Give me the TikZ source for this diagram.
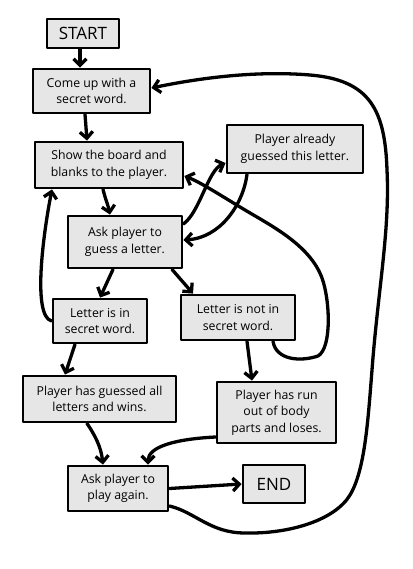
\documentclass[tikz,border=0pt]{standalone}
\usepackage{fontspec}
\setmainfont{Open Sans}
\usetikzlibrary{arrows.meta}
\definecolor{boxfill}{HTML}{E6E6E6}
\begin{document}
\begin{tikzpicture}[x=1pt,y=-1pt,
  box/.style={draw=black, line width=2.8pt, fill=boxfill, align=center, inner sep=0pt,
    font=\fontsize{12.3}{16.5}\selectfont, line join=round},
  arr/.style={-{Straight Barb[length=6.5pt,width=13pt]}, line width=3.3pt, line cap=round, line join=round}]
\useasboundingbox (0,0) rectangle (412,569);
\node[box, minimum width=72pt, minimum height=29pt, font=\fontsize{17}{19}\selectfont] (start) at (83,33.5) {START};
\node[box, minimum width=117pt, minimum height=44pt] (come) at (91.5,91) {Come up with a\\secret word.};
\node[box, minimum width=148pt, minimum height=46pt] (show) at (109,165) {Show the board and\\blanks to the player.};
\node[box, minimum width=136pt, minimum height=48pt] (already) at (295,149) {Player already\\guessed this letter.};
\node[box, minimum width=114pt, minimum height=52pt] (ask) at (125,242) {Ask player to\\guess a letter.};
\node[box, minimum width=94pt, minimum height=44pt] (in) at (100,321) {Letter is in\\secret word.};
\node[box, minimum width=114pt, minimum height=45pt] (notin) at (238,317.5) {Letter is not in\\secret word.};
\node[box, minimum width=153pt, minimum height=46pt] (won) at (99.5,399) {Player has guessed all\\letters and wins.};
\node[box, minimum width=119pt, minimum height=61pt] (lost) at (276.5,412.5) {Player has run\\out of body\\parts and loses.};
\node[box, minimum width=100pt, minimum height=45pt] (again) at (118,488.5) {Ask player to\\play again.};
\node[box, minimum width=62pt, minimum height=38pt, font=\fontsize{17}{19}\selectfont] (end) at (274,484) {END};

\draw[arr] ([xshift=-3pt]start.south) -- ([xshift=-11.5pt]come.north);
\draw[arr] ([xshift=-6.5pt]come.south) -- ([xshift=-22pt]show.north);
\draw[arr] ([xshift=-6pt]show.south) .. controls +(3,12) and +(-2,-10) .. ([xshift=-15pt]ask.north);
\draw[arr] ([xshift=-12pt]ask.south) -- ([xshift=0pt]in.north);
\draw[arr] ([xshift=47pt]ask.south) -- ([xshift=-45pt]notin.north);
\draw[arr] (in.west) .. controls +(-20,-5) and +(-8,40) .. ([xshift=-57pt]show.south);
\draw[arr] ([xshift=-25pt]in.south) -- ([xshift=-34.5pt]won.north);
\draw[arr] ([xshift=-12.5pt]won.south) .. controls +(8,12) and +(-2,-18) .. ([xshift=-15pt]again.north);
\draw[arr] ([xshift=9pt]notin.south) -- ([xshift=-24.5pt]lost.north);
\draw[arr] ([yshift=-24.5pt]lost.west) .. controls +(-40,2) and +(0,-18) .. ([xshift=30pt]again.north);
\draw[arr] (again.east) -- (end.west);
\draw[arr] ([yshift=-17.5pt]again.east) .. controls (195,512) and (210,533) .. (245,533)
  .. controls (290,534) and (335,520) .. (350,495)
  .. controls (365,470) and (368,420) .. (372,370)
  .. controls (378,290) and (390,230) .. (387,170)
  .. controls (385,110) and (370,80) .. (310,75)
  .. controls (250,70) and (190,80) .. ([yshift=3pt]come.east);
\draw[arr] ([yshift=18pt]ask.east) .. controls (200,212) and (208,170) .. ([yshift=-14pt]already.west);
\draw[arr] ([xshift=-48pt]already.south) .. controls (243,205) and (220,238) .. ([yshift=2pt]ask.east);
\draw[arr] ([xshift=35pt]notin.south) .. controls (276,360) and (300,362) .. (318,356)
  .. controls (332,348) and (330,300) .. (322,278)
  .. controls (310,245) and (270,225) .. (245,210)
  .. controls (220,195) and (200,182) .. ([yshift=-11pt]show.east);
\end{tikzpicture}
\end{document}
